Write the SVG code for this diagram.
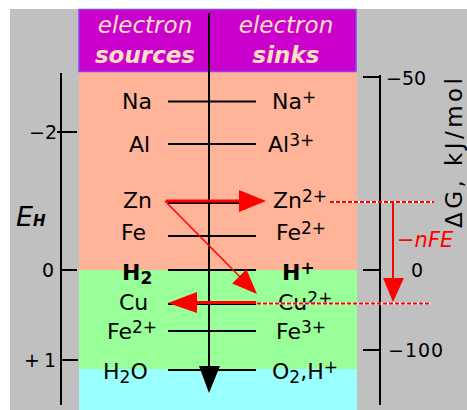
<svg xmlns="http://www.w3.org/2000/svg" width="467" height="410" viewBox="0 0 467 410">
<style>
text{font-family:"DejaVu Sans","Verdana",sans-serif;fill:#000}
.lab{font-size:22px}
.sup{font-size:17px}
.num{font-size:19px}
.hdr{font-size:23px;font-style:italic;fill:#FFE0C0;text-anchor:middle}
.lvl{stroke:#000;stroke-width:2;fill:none}
.ax{stroke:#000;stroke-width:2;fill:none}
.red{stroke:#FF0000;fill:none}
.dotw{stroke:#FFFFFF;stroke-width:2}
.dotr{stroke:#FF0000;stroke-width:2;stroke-dasharray:4 2}
</style>
<rect x="0" y="0" width="467" height="410" fill="#FFFFFF"/>
<rect x="10" y="9" width="457" height="401" fill="#C0C0C0"/>
<g id="bands">
<rect x="79" y="72" width="278" height="198" fill="#FFB399"/>
<rect x="79" y="270" width="278" height="99" fill="#99FF99"/>
<rect x="79" y="369" width="278" height="41" fill="#99FFFF"/>
</g>
<g id="header">
<rect x="79" y="9.5" width="277" height="62" fill="#CC00CC" stroke="#8844EE" stroke-width="1.5"/>
<text class="hdr" x="145" y="33">electron</text>
<text class="hdr" x="145" y="63" font-weight="bold">sources</text>
<text class="hdr" x="286" y="33">electron</text>
<text class="hdr" x="286" y="63" font-weight="bold">sinks</text>
</g>
<g id="left-axis">
<line class="ax" x1="61" y1="73" x2="61" y2="405"/>
<line class="ax" x1="57" y1="132" x2="77" y2="132"/>
<line class="ax" x1="61" y1="270" x2="77" y2="270"/>
<line class="ax" x1="61" y1="360" x2="78" y2="360"/>
<text class="num" x="57" y="139" text-anchor="end">−2</text>
<text class="num" x="54" y="277" text-anchor="end">0</text>
<text class="num" x="24" y="367">+<tspan dx="4">1</tspan></text>
<text x="16" y="226" font-size="27" font-style="italic">E<tspan font-size="15" font-weight="bold">H</tspan></text>
</g>
<g id="right-axis">
<line class="ax" x1="380" y1="75" x2="380" y2="405"/>
<line class="ax" x1="363" y1="77" x2="380" y2="77"/>
<line class="ax" x1="363" y1="270" x2="380" y2="270"/>
<line class="ax" x1="363" y1="350" x2="380" y2="350"/>
<text class="num" x="386" y="85" font-size="20">−50</text>
<text class="num" x="411" y="277" font-size="20">0</text>
<text class="num" x="388" y="357" font-size="20" letter-spacing="1">−100</text>
<text transform="translate(462,228) rotate(-90)" font-size="23" textLength="150" lengthAdjust="spacing">ΔG, kJ/mol</text>
</g>
<g id="row-Na">
<line class="lvl" x1="168" y1="101.5" x2="256" y2="101.5"/>
<text class="lab" x="122" y="109">Na</text>
<text class="lab" x="272" y="109">Na<tspan class="sup" dy="-6">+</tspan></text>
</g>
<g id="row-Al">
<line class="lvl" x1="168" y1="144" x2="256" y2="144"/>
<text class="lab" x="129" y="152">Al</text>
<text class="lab" x="268" y="152">Al<tspan class="sup" dy="-6">3+</tspan></text>
</g>
<g id="row-Zn">
<line class="lvl" x1="168" y1="203" x2="256" y2="203"/>
<text class="lab" x="123" y="208">Zn</text>
<text class="lab" x="273" y="208">Zn<tspan class="sup" dy="-6">2+</tspan></text>
</g>
<g id="row-Fe">
<line class="lvl" x1="168" y1="236" x2="256" y2="236"/>
<text class="lab" x="121" y="240">Fe</text>
<text class="lab" x="276" y="240">Fe<tspan class="sup" dy="-6">2+</tspan></text>
</g>
<g id="row-H2">
<line class="lvl" x1="168" y1="270" x2="256" y2="270"/>
<text class="lab" x="122" y="280" font-weight="bold">H<tspan class="sup" dy="4">2</tspan></text>
<text class="lab" x="282" y="280" font-weight="bold">H<tspan class="sup" dy="-6">+</tspan></text>
</g>
<g id="row-Cu">
<line class="lvl" x1="168" y1="304" x2="256" y2="304"/>
<text class="lab" x="119" y="310">Cu</text>
<text class="lab" x="278" y="310">Cu<tspan class="sup" dy="-6">2+</tspan></text>
</g>
<g id="row-Fe2">
<line class="lvl" x1="168" y1="331" x2="256" y2="331"/>
<text class="lab" x="107" y="339">Fe<tspan class="sup" dy="-6">2+</tspan></text>
<text class="lab" x="276" y="339">Fe<tspan class="sup" dy="-6">3+</tspan></text>
</g>
<g id="row-H2O">
<line class="lvl" x1="168" y1="370" x2="256" y2="370"/>
<text class="lab" x="103" y="379">H<tspan class="sup" dy="4">2</tspan><tspan dy="-4">O</tspan></text>
<text class="lab" x="272" y="379">O<tspan class="sup" dy="4">2</tspan><tspan dy="-4">,H</tspan><tspan class="sup" dy="-6">+</tspan></text>
</g>
<g id="connectors">
<line class="ax" x1="209" y1="13" x2="209" y2="368"/>
<polygon points="199,366 220,366 209,393" fill="#000"/>
<line class="red" stroke-width="3" x1="166" y1="201" x2="241" y2="201"/>
<polygon points="239,190 239,212 266,201" fill="#FF0000"/>
<line class="red" stroke-width="1.5" x1="165" y1="201" x2="243" y2="280"/>
<polygon points="257,294 246.4,269.2 232.2,283.4" fill="#FF0000"/>
<line class="red" stroke-width="3" x1="194" y1="302.5" x2="256" y2="302.5"/>
<polygon points="197,292 197,313 168,303" fill="#FF0000"/>
<line class="dotw" x1="330" y1="202" x2="434" y2="202"/>
<line class="dotr" x1="330" y1="202" x2="434" y2="202"/>
<line class="dotw" x1="257" y1="303.5" x2="430" y2="303.5"/>
<line class="dotr" x1="257" y1="303.5" x2="430" y2="303.5"/>
<line class="red" stroke-width="2" x1="393" y1="203" x2="393" y2="280"/>
<polygon points="383,278 404,278 393,302" fill="#FF0000"/>
<text x="397" y="247" font-size="21" font-style="italic" fill="#FF0000" style="fill:#FF0000">−nFE</text>
</g>
</svg>
